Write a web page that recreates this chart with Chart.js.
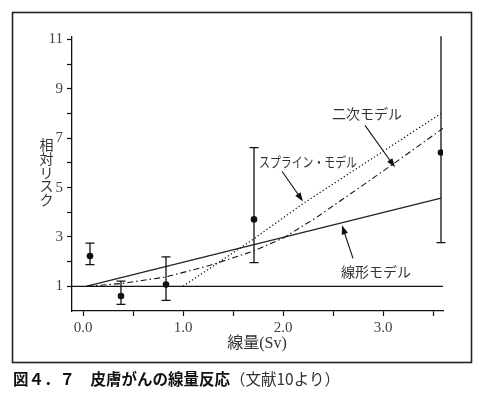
<!DOCTYPE html>
<html>
<head>
<meta charset="utf-8">
<script src="https://cdn.jsdelivr.net/npm/chart.js@4/dist/chart.umd.min.js"></script>
<style>
  body { margin: 0; background: #fff; }
  #wrap { position: relative; width: 487px; height: 393px; }
  #myChart { position: absolute; left: 0; top: 0; }
  #caption {
    position: absolute; left: 13px; top: 368px;
    font-family: "Noto Sans CJK JP", sans-serif; font-size: 15.5px; line-height: 20px;
    color: #111; white-space: nowrap;
  }
  #caption span { font-weight: normal; color: #333; }
</style>
</head>
<body>
<div id="wrap">
  <canvas id="myChart" width="487" height="393"></canvas>
  <div id="caption"><b>図４．７　皮膚がんの線量反応</b><span>（文献10より）</span></div>
</div>
<script>
// observed relative risk with error bars
var obsX = [0.07, 0.38, 0.83, 1.71, 3.58];
var obsY = [2.23, 0.61, 1.07, 3.71, 6.42];
var errLow = [1.88, 0.27, 0.43, 1.96, 2.77];
var errHigh = [2.75, 1.21, 2.19, 6.62, 11.13];

// model curves
var linX = [0.03, 3.58];
var linY = [1.0, 4.57];
var splX = [1.0, 1.7, 2.2, 3.58];
var splY = [1.0, 2.9, 4.35, 8.0];
var quadX = [0.04, 0.4, 0.83, 1.27, 1.7, 2.0, 2.32, 2.8, 3.1, 3.6];
var quadY = [1.0, 1.12, 1.38, 1.85, 2.42, 2.95, 3.75, 5.1, 5.95, 7.4];
var baseX = [-0.11, 3.6];
var baseY = [1, 1];

// axes
var xTicks = [0, 0.5, 1, 1.5, 2, 2.5, 3, 3.5];
var xTickLabels = ['0.0', '', '1.0', '', '2.0', '', '3.0', ''];
var yTicks = [1, 2, 3, 4, 5, 6, 7, 8, 9, 10, 11];
var yTickLabels = ['1', '', '3', '', '5', '', '7', '', '9', '', '11'];
var xTitle = '線量(Sv)';
var yTitle = '相対リスク';

// labels with arrows: text position and arrow from/to, in data units
var notes = [
    { text: '二次モデル', x: 2.84, y: 7.99, fromX: 2.82, fromY: 7.52, toX: 3.12, toY: 5.82, w: 72 },
    { text: 'スプライン・モデル', x: 2.25, y: 6.06, fromX: 1.99, fromY: 5.66, toX: 2.2, toY: 4.44, w: 98 },
    { text: '線形モデル', x: 2.93, y: 1.59, fromX: 2.70, fromY: 2.13, toX: 2.59, toY: 3.47, w: 73 }
];

function pts(xs, ys) {
    var out = [];
    for (var i in xs) out.push({ x: xs[i], y: ys[i] });
    return out;
}

const extras = {
    id: 'extras',
    beforeDraw(chart) {
        var ctx = chart.ctx;
        ctx.save();
        ctx.strokeStyle = '#222';
        ctx.lineWidth = 1.6;
        ctx.strokeRect(12.5, 12.5, 459, 350);
        ctx.restore();
    },
    afterDatasetsDraw(chart) {
        var ctx = chart.ctx;
        var xs = chart.scales.x, ys = chart.scales.y;
        ctx.save();
        // error bars
        ctx.strokeStyle = '#111';
        ctx.lineWidth = 1.3;
        for (var i = 0; i < obsX.length; i++) {
            var px = xs.getPixelForValue(obsX[i]);
            var top = ys.getPixelForValue(errHigh[i]);
            var bot = ys.getPixelForValue(errLow[i]);
            ctx.beginPath();
            ctx.moveTo(px, top); ctx.lineTo(px, bot);
            ctx.moveTo(px - 4.5, bot); ctx.lineTo(px + 4.5, bot);
            if (errHigh[i] <= 11) { ctx.moveTo(px - 4.5, top); ctx.lineTo(px + 4.5, top); }
            ctx.stroke();
        }
        // notes and arrows
        ctx.font = '14px "Noto Sans CJK JP", sans-serif';
        ctx.fillStyle = '#333';
        ctx.textAlign = 'center';
        ctx.textBaseline = 'middle';
        notes.forEach(function(n) {
            ctx.fillText(n.text, xs.getPixelForValue(n.x), ys.getPixelForValue(n.y), n.w);
            var x1 = xs.getPixelForValue(n.fromX), y1 = ys.getPixelForValue(n.fromY);
            var x2 = xs.getPixelForValue(n.toX), y2 = ys.getPixelForValue(n.toY);
            var a = Math.atan2(y2 - y1, x2 - x1);
            ctx.strokeStyle = '#111';
            ctx.lineWidth = 1.1;
            ctx.beginPath();
            ctx.moveTo(x1, y1);
            ctx.lineTo(x2 - 6 * Math.cos(a), y2 - 6 * Math.sin(a));
            ctx.stroke();
            ctx.fillStyle = '#111';
            ctx.beginPath();
            ctx.moveTo(x2, y2);
            ctx.lineTo(x2 - 9 * Math.cos(a) + 3.2 * Math.sin(a), y2 - 9 * Math.sin(a) - 3.2 * Math.cos(a));
            ctx.lineTo(x2 - 9 * Math.cos(a) - 3.2 * Math.sin(a), y2 - 9 * Math.sin(a) + 3.2 * Math.cos(a));
            ctx.closePath();
            ctx.fill();
            ctx.fillStyle = '#333';
        });
        // axis titles
        ctx.font = '16px "Liberation Serif", "Noto Sans CJK JP", serif';
        ctx.fillText(xTitle, 257, 344);
        ctx.font = '14px "Noto Sans CJK JP", sans-serif';
        for (var k = 0; k < yTitle.length; k++) {
            ctx.fillText(yTitle[k], 46.5, 145 + k * 13.6);
        }
        ctx.restore();
    }
};

const chartdata = {
    datasets: [{
            data: pts(baseX, baseY),
            showLine: true,
            borderColor: '#111',
            borderWidth: 1.3,
            pointRadius: 0
        },
        {
            data: pts(linX, linY),
            showLine: true,
            borderColor: '#222',
            borderWidth: 1.2,
            pointRadius: 0
        },
        {
            data: pts(splX, splY),
            showLine: true,
            borderColor: '#111',
            borderWidth: 1.2,
            borderDash: [1.3, 2.3],
            pointRadius: 0
        },
        {
            data: pts(quadX, quadY),
            showLine: true,
            borderColor: '#111',
            borderWidth: 1.1,
            borderDash: [6, 3, 1.5, 3],
            pointRadius: 0
        },
        {
            data: pts(obsX, obsY),
            showLine: false,
            backgroundColor: '#111',
            borderColor: '#111',
            pointRadius: 3.3,
            pointBorderWidth: 0
        }
    ]
};

const config = {
    type: 'scatter',
    data: chartdata,
    plugins: [extras],
    options: {
        animation: false,
        responsive: false,
        layout: { padding: { top: 37, right: 44, left: 0, bottom: 0 } },
        plugins: { legend: { display: false }, tooltip: { enabled: false } },
        scales: {
            x: {
                type: 'linear',
                min: -0.11,
                max: 3.6,
                afterBuildTicks: function(s) { s.ticks = xTicks.map(function(v) { return { value: v }; }); },
                afterFit: function(s) { s.height = 82; },
                ticks: {
                    autoSkip: false,
                    maxRotation: 0,
                    padding: 3,
                    color: '#444',
                    font: { family: '"Liberation Serif", serif', size: 15 },
                    callback: function(v, i) { return xTickLabels[i]; }
                },
                grid: { drawOnChartArea: false, drawTicks: true, tickLength: 5, color: '#111', tickWidth: 1.2 },
                border: { color: '#111', width: 1.3 }
            },
            y: {
                type: 'linear',
                min: 0,
                max: 11.1,
                afterBuildTicks: function(s) { s.ticks = yTicks.map(function(v) { return { value: v }; }); },
                afterFit: function(s) { s.width = 72; },
                ticks: {
                    autoSkip: false,
                    padding: 4,
                    color: '#444',
                    font: { family: '"Liberation Serif", serif', size: 15 },
                    callback: function(v, i) { return yTickLabels[i]; }
                },
                grid: { drawOnChartArea: false, drawTicks: true, tickLength: 5, color: '#111', tickWidth: 1.2 },
                border: { color: '#111', width: 1.3 }
            }
        }
    }
};

var myChart = new Chart(document.getElementById('myChart'), config);
</script>
</body>
</html>
